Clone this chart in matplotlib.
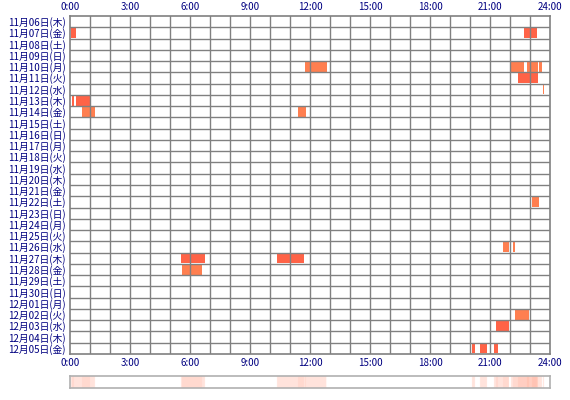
import numpy as np
import matplotlib
matplotlib.use('Agg')
import matplotlib.pyplot as plt
import datetime

plt.rcParams['font.family'] = ['Noto Sans CJK JP', 'DejaVu Sans']

start = datetime.date(2025, 11, 6)
n_days = 30
weekdays = ['月', '火', '水', '木', '金', '土', '日']
day_labels = []
for i in range(n_days):
    d = start + datetime.timedelta(days=i)
    day_labels.append(f"{d.month}月{d.day:02d}日({weekdays[d.weekday()]})")

# (row index, start hour, end hour, colour)
DARK = '#ff6347'
LIGHT = '#ff7f50'
segments = [
    (1, 0.05, 0.3, DARK), (1, 22.7, 23.35, DARK),
    (4, 11.75, 12.83, LIGHT), (4, 22.05, 22.7, LIGHT), (4, 22.85, 23.4, LIGHT), (4, 23.45, 23.6, LIGHT),
    (5, 22.4, 23.4, DARK),
    (6, 23.65, 23.7, LIGHT),
    (7, 0.1, 0.2, DARK), (7, 0.3, 1.0, DARK),
    (8, 0.6, 1.25, LIGHT), (8, 11.4, 11.8, LIGHT),
    (16, 23.1, 23.45, LIGHT),
    (20, 21.65, 21.95, LIGHT), (20, 22.15, 22.25, LIGHT),
    (21, 5.55, 6.75, DARK), (21, 10.35, 11.7, DARK),
    (22, 5.6, 6.6, LIGHT),
    (26, 22.25, 22.95, LIGHT),
    (27, 21.3, 21.95, DARK),
    (29, 20.1, 20.25, DARK), (29, 20.5, 20.85, DARK), (29, 21.2, 21.4, DARK),
]

navy = '#000080'
fig = plt.figure(figsize=(5.7, 4.0), dpi=100)
ax = fig.add_axes([70/570, 1 - 354/400, 480/570, 338/400])
for row, s, e, c in segments:
    ax.barh(row, e - s, left=s, height=0.9, color=c, linewidth=0, zorder=1)
ax.set_xlim(0, 24)
ax.set_ylim(n_days - 0.5, -0.5)
for h in range(1, 24):
    ax.axvline(h, color='#808080', lw=1.0, zorder=2)
for r in range(n_days - 1):
    ax.axhline(r + 0.5, color='#808080', lw=1.0, zorder=2)
for sp in ax.spines.values():
    sp.set_color('#808080')
    sp.set_linewidth(1.2)
ax.set_yticks(range(n_days))
ax.set_yticklabels(day_labels, fontsize=7, color=navy)
xt = list(range(0, 25, 3))
ax.set_xticks(xt)
ax.set_xticklabels([f"{h}:00" for h in xt], fontsize=7, color=navy)
ax.tick_params(length=0, pad=3, top=True, labeltop=True)

# density strip
strip = fig.add_axes([70/570, 1 - 388/400, 480/570, 12/400])
minutes = np.zeros(24 * 60)
for row, s, e, c in segments:
    minutes[int(s * 60):int(e * 60)] += 1
rgba = np.zeros((1, 24 * 60, 4))
rgba[..., :3] = (1.0, 0.45, 0.3)
rgba[..., 3] = np.clip(minutes / minutes.max(), 0, 1) * 0.3 + (minutes > 0) * 0.12
strip.imshow(rgba, aspect='auto', extent=[0, 24, 0, 1])
strip.set_xlim(0, 24)
strip.set_xticks([])
strip.set_yticks([])
for sp in strip.spines.values():
    sp.set_color('#b0b0b0')
    sp.set_linewidth(1.2)

fig.savefig('out.png', dpi=100, facecolor='white')
